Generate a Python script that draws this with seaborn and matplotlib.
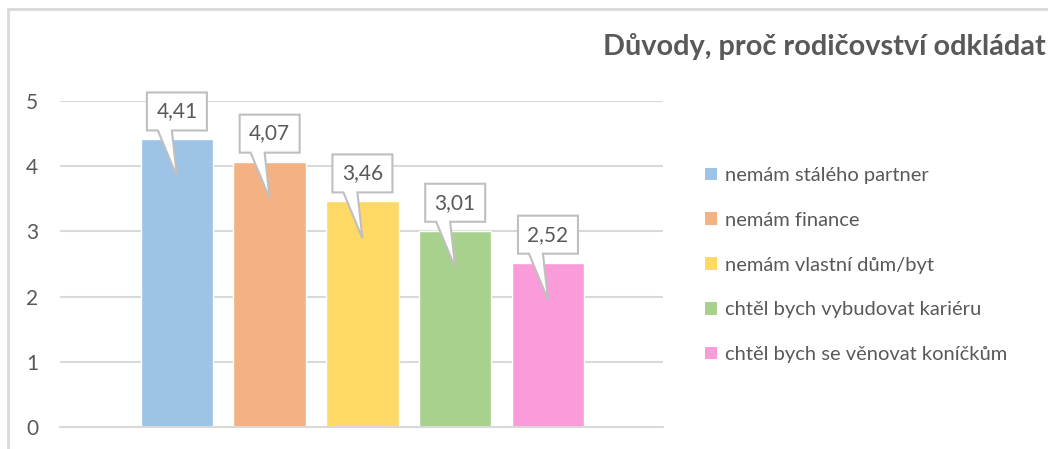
import numpy as np
import pandas as pd
import seaborn as sns
import matplotlib.pyplot as plt
from matplotlib.patches import Patch, Polygon, Rectangle
from matplotlib import transforms

# data
duvody = ["nemám stálého partner", "nemám finance", "nemám vlastní dům/byt",
          "chtěl bych vybudovat kariéru", "chtěl bych se věnovat koníčkům"]
hodnoty = [4.41, 4.07, 3.46, 3.01, 2.52]
barvy = ["#9DC3E6", "#F4B183", "#FFD966", "#A9D18E", "#F99CD9"]
yticks = [0, 1, 2, 3, 4, 5]
titulek = "Důvody, proč rodičovství odkládat"

sns.set_style("white")
plt.rcParams["font.family"] = ["Lato", "DejaVu Sans"]
text_col = "#595959"
grid_col = "#d9d9d9"

W, H = 1048, 449
fig = plt.figure(figsize=(W / 100, H / 100), dpi=100)
ax = fig.add_axes([60 / W, 22 / H, 603 / W, 326 / H])

df = pd.DataFrame({"duvod": duvody, "hodnota": hodnoty})
sns.barplot(data=df, x="duvod", y="hodnota", hue="duvod", order=duvody,
            hue_order=duvody, palette=barvy, width=0.78, saturation=1,
            legend=False, ax=ax, zorder=2)

ax.set_xlim(-1.26, 5.24)
ax.set_ylim(0, 5)
ax.set_yticks(yticks)
ax.set_yticklabels([str(t) for t in yticks])
ax.set_xticks([])
ax.set_xlabel("")
ax.set_ylabel("")
ax.tick_params(axis="y", length=0, pad=15.8, labelsize=15, labelcolor=text_col)
for s in ["left", "right", "top"]:
    ax.spines[s].set_visible(False)
ax.spines["bottom"].set_color(grid_col)
ax.spines["bottom"].set_linewidth(1.5)
ax.yaxis.grid(True, color=grid_col, linewidth=1.5)
ax.set_axisbelow(True)

# callout labels (speech-bubble boxes pointing into each bar)
shape = np.array([(-30, 9), (-19, 9), (0, -37), (-5, 9), (30, 9),
                  (30, 47), (-30, 47)]) / 100.0
for bar in ax.patches:
    xc = bar.get_x() + bar.get_width() / 2
    h = bar.get_height()
    tr = fig.dpi_scale_trans + transforms.ScaledTranslation(xc, h, ax.transData)
    ax.add_patch(Polygon(shape, closed=True, transform=tr, facecolor="white",
                         edgecolor="#bfbfbf", linewidth=1.5, zorder=4,
                         clip_on=False))
    ax.annotate(f"{h:.2f}".replace(".", ","), xy=(xc, h), xytext=(0, 20.2),
                textcoords="offset points", ha="center", va="center",
                fontsize=15, color=text_col, zorder=5, annotation_clip=False)

handles = [Patch(facecolor=c, edgecolor="none", label=l) for c, l in zip(barvy, duvody)]
fig.legend(handles=handles, loc="upper left", bbox_to_anchor=(705 / W, 1 - 167 / H),
           frameon=False, fontsize=14.5, handlelength=0.6, handleheight=0.6,
           handletextpad=0.4, labelspacing=1.38, borderaxespad=0, borderpad=0,
           labelcolor=text_col)

# title reaches right up to the edge, as in the original
fig.text(1046 / W, 1 - 55 / H, titulek, ha="right", va="baseline",
         fontsize=20.8, fontweight="bold", color=text_col)

# outer chart frame
fig.patches.append(Rectangle((8 / W, -0.1), 1.2, 1.1 - 9.5 / H, transform=fig.transFigure,
                             fill=False, edgecolor=grid_col, linewidth=2))

fig.savefig("out.png", dpi=100)
